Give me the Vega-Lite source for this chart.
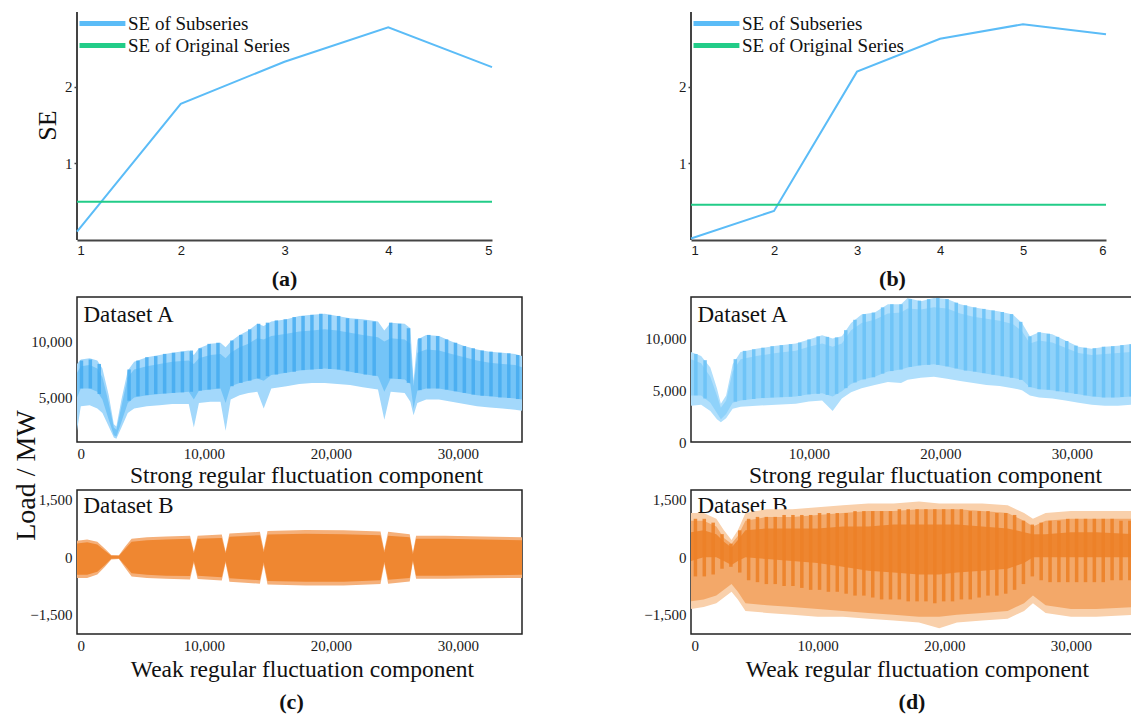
{
  "$schema": "https://vega.github.io/schema/vega-lite/v6.json",
  "padding": {"left": 11, "top": 11, "right": 0, "bottom": 0},
  "background": "white",
  "datasets": {
    "se_a": [
      {"component": 1, "se": 0.11, "series": "SE of Subseries"},
      {"component": 2, "se": 1.78, "series": "SE of Subseries"},
      {"component": 3, "se": 2.33, "series": "SE of Subseries"},
      {"component": 4, "se": 2.78, "series": "SE of Subseries"},
      {"component": 5, "se": 2.26, "series": "SE of Subseries"},
      {"component": 1, "se": 0.5, "series": "SE of Original Series"},
      {"component": 5, "se": 0.5, "series": "SE of Original Series"}
    ],
    "se_b": [
      {"component": 1, "se": 0.02, "series": "SE of Subseries"},
      {"component": 2, "se": 0.38, "series": "SE of Subseries"},
      {"component": 3, "se": 2.2, "series": "SE of Subseries"},
      {"component": 4, "se": 2.63, "series": "SE of Subseries"},
      {"component": 5, "se": 2.82, "series": "SE of Subseries"},
      {"component": 6, "se": 2.69, "series": "SE of Subseries"},
      {"component": 1, "se": 0.46, "series": "SE of Original Series"},
      {"component": 6, "se": 0.46, "series": "SE of Original Series"}
    ],
    "cA": [
      {"x": 0, "lo": 2000, "hi": 8000, "lo2": 5000, "hi2": 7200},
      {"x": 300, "lo": 4200, "hi": 8400, "lo2": 5800, "hi2": 7800},
      {"x": 1000, "lo": 4300, "hi": 8500, "lo2": 5800, "hi2": 7900},
      {"x": 1600, "lo": 4000, "hi": 8300, "lo2": 5500, "hi2": 7600},
      {"x": 2000, "lo": 3600, "hi": 7600, "lo2": 4800, "hi2": 6800},
      {"x": 2500, "lo": 2400, "hi": 5200, "lo2": 3000, "hi2": 4500},
      {"x": 2900, "lo": 1400, "hi": 2600, "lo2": 1600, "hi2": 2300},
      {"x": 3100, "lo": 1300, "hi": 2400, "lo2": 1500, "hi2": 2100},
      {"x": 3500, "lo": 2300, "hi": 4800, "lo2": 2800, "hi2": 4200},
      {"x": 4000, "lo": 3600, "hi": 7400, "lo2": 4500, "hi2": 6800},
      {"x": 4500, "lo": 4000, "hi": 8200, "lo2": 5000, "hi2": 7500},
      {"x": 5500, "lo": 4200, "hi": 8600, "lo2": 5200, "hi2": 7800},
      {"x": 6500, "lo": 4300, "hi": 8800, "lo2": 5300, "hi2": 8000},
      {"x": 7500, "lo": 4400, "hi": 9000, "lo2": 5400, "hi2": 8200},
      {"x": 8800, "lo": 4400, "hi": 9200, "lo2": 5500, "hi2": 8300},
      {"x": 9200, "lo": 2300, "hi": 8800, "lo2": 4800, "hi2": 8000},
      {"x": 9600, "lo": 4500, "hi": 9400, "lo2": 5600, "hi2": 8500},
      {"x": 10500, "lo": 4600, "hi": 9800, "lo2": 5700, "hi2": 8800},
      {"x": 11300, "lo": 4600, "hi": 9900, "lo2": 5800, "hi2": 8900},
      {"x": 11700, "lo": 2000, "hi": 9500, "lo2": 4500, "hi2": 8500},
      {"x": 12100, "lo": 4800, "hi": 10000, "lo2": 6000, "hi2": 9000},
      {"x": 12800, "lo": 5200, "hi": 10600, "lo2": 6300, "hi2": 9500},
      {"x": 13500, "lo": 5400, "hi": 11000, "lo2": 6500, "hi2": 9800},
      {"x": 14200, "lo": 5500, "hi": 11600, "lo2": 6700, "hi2": 10300},
      {"x": 14700, "lo": 4000, "hi": 11400, "lo2": 6500, "hi2": 10200},
      {"x": 15300, "lo": 5800, "hi": 11800, "lo2": 7000, "hi2": 10500},
      {"x": 16500, "lo": 6000, "hi": 12000, "lo2": 7200, "hi2": 10700},
      {"x": 17500, "lo": 6200, "hi": 12300, "lo2": 7400, "hi2": 10900},
      {"x": 18500, "lo": 6300, "hi": 12400, "lo2": 7500, "hi2": 11000},
      {"x": 19500, "lo": 6300, "hi": 12500, "lo2": 7600, "hi2": 11100},
      {"x": 20500, "lo": 6200, "hi": 12300, "lo2": 7500, "hi2": 11000},
      {"x": 21500, "lo": 6100, "hi": 12100, "lo2": 7300, "hi2": 10800},
      {"x": 22500, "lo": 5900, "hi": 12000, "lo2": 7100, "hi2": 10600},
      {"x": 23700, "lo": 5700, "hi": 11800, "lo2": 6900, "hi2": 10400},
      {"x": 24200, "lo": 3000, "hi": 11000, "lo2": 5500, "hi2": 10000},
      {"x": 24700, "lo": 5500, "hi": 11700, "lo2": 6700, "hi2": 10300},
      {"x": 25800, "lo": 5400, "hi": 11600, "lo2": 6600, "hi2": 10200},
      {"x": 26250, "lo": 4600, "hi": 11200, "lo2": 6200, "hi2": 9800},
      {"x": 26500, "lo": 3400, "hi": 6500, "lo2": 4000, "hi2": 6000},
      {"x": 26800, "lo": 4500, "hi": 10200, "lo2": 5600, "hi2": 9000},
      {"x": 27500, "lo": 4800, "hi": 10600, "lo2": 5800, "hi2": 9300},
      {"x": 28500, "lo": 4800, "hi": 10500, "lo2": 5800, "hi2": 9200},
      {"x": 29500, "lo": 4600, "hi": 10000, "lo2": 5600, "hi2": 8900},
      {"x": 30500, "lo": 4400, "hi": 9600, "lo2": 5400, "hi2": 8600},
      {"x": 31500, "lo": 4200, "hi": 9300, "lo2": 5200, "hi2": 8300},
      {"x": 32500, "lo": 4100, "hi": 9100, "lo2": 5100, "hi2": 8100},
      {"x": 33500, "lo": 4000, "hi": 9000, "lo2": 5000, "hi2": 8000},
      {"x": 34500, "lo": 3900, "hi": 8900, "lo2": 4900, "hi2": 7900},
      {"x": 35040, "lo": 3800, "hi": 8700, "lo2": 4800, "hi2": 7700}
    ],
    "cA_s": [
      {"x": 350, "b": 5800, "t": 8300}, {"x": 1050, "b": 5800, "t": 8400}, {"x": 1750, "b": 5300, "t": 8000},
      {"x": 4100, "b": 4700, "t": 7500}, {"x": 4800, "b": 5100, "t": 8300}, {"x": 5500, "b": 5200, "t": 8600},
      {"x": 6200, "b": 5300, "t": 8700}, {"x": 6900, "b": 5350, "t": 8900}, {"x": 7600, "b": 5400, "t": 9000},
      {"x": 8300, "b": 5450, "t": 9100}, {"x": 9000, "b": 5500, "t": 9200}, {"x": 9700, "b": 5600, "t": 9400},
      {"x": 10400, "b": 5700, "t": 9800}, {"x": 11100, "b": 5800, "t": 9900}, {"x": 12200, "b": 6000, "t": 10100},
      {"x": 12900, "b": 6300, "t": 10600}, {"x": 13600, "b": 6500, "t": 11100}, {"x": 14300, "b": 6700, "t": 11600},
      {"x": 15000, "b": 6900, "t": 11700}, {"x": 15700, "b": 7050, "t": 11900}, {"x": 16400, "b": 7200, "t": 12000},
      {"x": 17100, "b": 7300, "t": 12200}, {"x": 17800, "b": 7450, "t": 12300}, {"x": 18500, "b": 7500, "t": 12400},
      {"x": 19200, "b": 7550, "t": 12500}, {"x": 19900, "b": 7550, "t": 12400}, {"x": 20600, "b": 7500, "t": 12300},
      {"x": 21300, "b": 7350, "t": 12100}, {"x": 22000, "b": 7200, "t": 12000}, {"x": 22700, "b": 7050, "t": 11900},
      {"x": 23400, "b": 6950, "t": 11800}, {"x": 24700, "b": 6700, "t": 11700}, {"x": 25400, "b": 6650, "t": 11600},
      {"x": 26100, "b": 6300, "t": 11200}, {"x": 27000, "b": 5650, "t": 10300}, {"x": 27700, "b": 5800, "t": 10600},
      {"x": 28400, "b": 5800, "t": 10500}, {"x": 29100, "b": 5700, "t": 10200}, {"x": 29800, "b": 5550, "t": 9900},
      {"x": 30500, "b": 5400, "t": 9600}, {"x": 31200, "b": 5250, "t": 9400}, {"x": 31900, "b": 5150, "t": 9200},
      {"x": 32600, "b": 5100, "t": 9100}, {"x": 33300, "b": 5000, "t": 9000}, {"x": 34000, "b": 4950, "t": 8950},
      {"x": 34700, "b": 4850, "t": 8800}
    ],
    "cB": [
      {"x": 0, "lo": -540, "hi": 430, "lo2": -460, "hi2": 360},
      {"x": 800, "lo": -540, "hi": 460, "lo2": -460, "hi2": 390},
      {"x": 1600, "lo": -450, "hi": 400, "lo2": -380, "hi2": 330},
      {"x": 2200, "lo": -250, "hi": 220, "lo2": -200, "hi2": 170},
      {"x": 2700, "lo": -60, "hi": 60, "lo2": -40, "hi2": 40},
      {"x": 3300, "lo": -50, "hi": 50, "lo2": -35, "hi2": 35},
      {"x": 3800, "lo": -280, "hi": 280, "lo2": -220, "hi2": 220},
      {"x": 4300, "lo": -500, "hi": 480, "lo2": -420, "hi2": 400},
      {"x": 5500, "lo": -540, "hi": 520, "lo2": -460, "hi2": 440},
      {"x": 7000, "lo": -560, "hi": 540, "lo2": -480, "hi2": 460},
      {"x": 8900, "lo": -580, "hi": 560, "lo2": -490, "hi2": 480},
      {"x": 9200, "lo": -150, "hi": 150, "lo2": -100, "hi2": 100},
      {"x": 9500, "lo": -570, "hi": 560, "lo2": -480, "hi2": 480},
      {"x": 11400, "lo": -610, "hi": 590, "lo2": -520, "hi2": 500},
      {"x": 11700, "lo": -150, "hi": 150, "lo2": -100, "hi2": 100},
      {"x": 12000, "lo": -640, "hi": 620, "lo2": -550, "hi2": 530},
      {"x": 14400, "lo": -690, "hi": 660, "lo2": -600, "hi2": 570},
      {"x": 14700, "lo": -200, "hi": 200, "lo2": -130, "hi2": 130},
      {"x": 15000, "lo": -710, "hi": 680, "lo2": -620, "hi2": 590},
      {"x": 18000, "lo": -740, "hi": 710, "lo2": -640, "hi2": 610},
      {"x": 21000, "lo": -740, "hi": 700, "lo2": -640, "hi2": 600},
      {"x": 23900, "lo": -700, "hi": 670, "lo2": -600, "hi2": 570},
      {"x": 24200, "lo": -180, "hi": 180, "lo2": -120, "hi2": 120},
      {"x": 24500, "lo": -690, "hi": 660, "lo2": -590, "hi2": 560},
      {"x": 26200, "lo": -630, "hi": 600, "lo2": -540, "hi2": 520},
      {"x": 26450, "lo": -120, "hi": 120, "lo2": -80, "hi2": 80},
      {"x": 26700, "lo": -560, "hi": 560, "lo2": -480, "hi2": 480},
      {"x": 29000, "lo": -560, "hi": 560, "lo2": -480, "hi2": 480},
      {"x": 32000, "lo": -550, "hi": 540, "lo2": -470, "hi2": 460},
      {"x": 35040, "lo": -540, "hi": 520, "lo2": -460, "hi2": 440}
    ],
    "dA": [
      {"x": 1030, "lo": 3500, "hi": 8700, "lo2": 4500, "hi2": 8000},
      {"x": 1800, "lo": 3600, "hi": 8300, "lo2": 4500, "hi2": 7600},
      {"x": 2500, "lo": 3000, "hi": 7200, "lo2": 3800, "hi2": 6300},
      {"x": 3000, "lo": 2200, "hi": 5200, "lo2": 2800, "hi2": 4500},
      {"x": 3300, "lo": 1900, "hi": 3700, "lo2": 2200, "hi2": 3300},
      {"x": 3700, "lo": 2300, "hi": 4500, "lo2": 2700, "hi2": 4000},
      {"x": 4200, "lo": 3200, "hi": 7500, "lo2": 3800, "hi2": 6800},
      {"x": 4800, "lo": 3400, "hi": 8700, "lo2": 4000, "hi2": 8000},
      {"x": 6000, "lo": 3500, "hi": 9000, "lo2": 4200, "hi2": 8300},
      {"x": 7500, "lo": 3600, "hi": 9300, "lo2": 4300, "hi2": 8600},
      {"x": 9000, "lo": 3700, "hi": 9500, "lo2": 4400, "hi2": 8800},
      {"x": 10000, "lo": 3900, "hi": 9900, "lo2": 4600, "hi2": 9200},
      {"x": 11000, "lo": 4000, "hi": 10300, "lo2": 4700, "hi2": 9500},
      {"x": 11800, "lo": 3000, "hi": 10000, "lo2": 4400, "hi2": 9200},
      {"x": 12500, "lo": 4200, "hi": 10200, "lo2": 4900, "hi2": 9500},
      {"x": 13200, "lo": 4800, "hi": 11500, "lo2": 5600, "hi2": 10800},
      {"x": 14000, "lo": 5200, "hi": 12300, "lo2": 6000, "hi2": 11500},
      {"x": 15000, "lo": 5500, "hi": 12500, "lo2": 6300, "hi2": 11800},
      {"x": 16000, "lo": 5800, "hi": 13300, "lo2": 6800, "hi2": 12400},
      {"x": 17000, "lo": 5700, "hi": 13300, "lo2": 7000, "hi2": 12500},
      {"x": 17500, "lo": 6000, "hi": 13900, "lo2": 7200, "hi2": 12900},
      {"x": 18500, "lo": 6200, "hi": 13600, "lo2": 7400, "hi2": 12800},
      {"x": 19500, "lo": 6300, "hi": 13900, "lo2": 7500, "hi2": 13000},
      {"x": 20500, "lo": 6100, "hi": 13800, "lo2": 7300, "hi2": 12900},
      {"x": 21500, "lo": 5900, "hi": 13300, "lo2": 7000, "hi2": 12400},
      {"x": 22500, "lo": 5700, "hi": 13000, "lo2": 6800, "hi2": 12100},
      {"x": 23500, "lo": 5500, "hi": 12800, "lo2": 6600, "hi2": 11900},
      {"x": 24500, "lo": 5400, "hi": 12600, "lo2": 6400, "hi2": 11700},
      {"x": 25500, "lo": 5200, "hi": 12300, "lo2": 6200, "hi2": 11400},
      {"x": 26200, "lo": 5000, "hi": 11500, "lo2": 6000, "hi2": 10700},
      {"x": 26800, "lo": 4500, "hi": 10200, "lo2": 5300, "hi2": 9500},
      {"x": 27500, "lo": 4300, "hi": 10600, "lo2": 5100, "hi2": 9800},
      {"x": 28500, "lo": 4200, "hi": 10400, "lo2": 5000, "hi2": 9600},
      {"x": 29500, "lo": 4000, "hi": 9800, "lo2": 4800, "hi2": 9100},
      {"x": 30500, "lo": 3800, "hi": 9200, "lo2": 4600, "hi2": 8600},
      {"x": 31500, "lo": 3600, "hi": 9000, "lo2": 4400, "hi2": 8400},
      {"x": 32500, "lo": 3500, "hi": 9200, "lo2": 4300, "hi2": 8500},
      {"x": 33500, "lo": 3500, "hi": 9300, "lo2": 4300, "hi2": 8600},
      {"x": 34640, "lo": 3600, "hi": 9500, "lo2": 4400, "hi2": 8700}
    ],
    "dA_s": [
      {"x": 1400, "b": 4500, "t": 8500}, {"x": 2100, "b": 4200, "t": 7900}, {"x": 4400, "b": 3900, "t": 8000},
      {"x": 5100, "b": 4050, "t": 8800}, {"x": 5800, "b": 4150, "t": 8950}, {"x": 6500, "b": 4250, "t": 9100},
      {"x": 7200, "b": 4300, "t": 9250}, {"x": 7900, "b": 4330, "t": 9350}, {"x": 8600, "b": 4370, "t": 9450},
      {"x": 9300, "b": 4450, "t": 9600}, {"x": 10000, "b": 4600, "t": 9900}, {"x": 10700, "b": 4650, "t": 10200},
      {"x": 11400, "b": 4550, "t": 10150}, {"x": 12100, "b": 4650, "t": 10100}, {"x": 12800, "b": 5200, "t": 10800},
      {"x": 13500, "b": 5750, "t": 11800}, {"x": 14200, "b": 6050, "t": 12350}, {"x": 14900, "b": 6250, "t": 12500},
      {"x": 15600, "b": 6600, "t": 13000}, {"x": 16300, "b": 6850, "t": 13300}, {"x": 17000, "b": 7000, "t": 13300},
      {"x": 17700, "b": 7250, "t": 13800}, {"x": 18400, "b": 7400, "t": 13650}, {"x": 19100, "b": 7450, "t": 13800},
      {"x": 19800, "b": 7450, "t": 13900}, {"x": 20500, "b": 7300, "t": 13800}, {"x": 21200, "b": 7100, "t": 13450},
      {"x": 21900, "b": 6900, "t": 13200}, {"x": 22600, "b": 6800, "t": 13000}, {"x": 23300, "b": 6650, "t": 12850},
      {"x": 24000, "b": 6500, "t": 12700}, {"x": 24700, "b": 6350, "t": 12550}, {"x": 25400, "b": 6200, "t": 12350},
      {"x": 26100, "b": 6000, "t": 11600}, {"x": 26800, "b": 5300, "t": 10200}, {"x": 27500, "b": 5100, "t": 10600},
      {"x": 28200, "b": 5050, "t": 10450}, {"x": 28900, "b": 4900, "t": 10150}, {"x": 29600, "b": 4800, "t": 9750},
      {"x": 30300, "b": 4650, "t": 9300}, {"x": 31000, "b": 4500, "t": 9100}, {"x": 31700, "b": 4400, "t": 9050},
      {"x": 32400, "b": 4300, "t": 9200}, {"x": 33100, "b": 4300, "t": 9250}, {"x": 33800, "b": 4350, "t": 9350},
      {"x": 34500, "b": 4400, "t": 9450}
    ],
    "dB": [
      {"x": 0, "lo": -1350, "hi": 1150, "mlo": -1150, "mhi": 950, "dlo": -100, "dhi": 650},
      {"x": 1000, "lo": -1300, "hi": 1150, "mlo": -1100, "mhi": 950, "dlo": 0, "dhi": 700},
      {"x": 2000, "lo": -1200, "hi": 1000, "mlo": -1000, "mhi": 800, "dlo": 0, "dhi": 600},
      {"x": 2600, "lo": -1050, "hi": 700, "mlo": -850, "mhi": 500, "dlo": -100, "dhi": 400},
      {"x": 3200, "lo": -900, "hi": 450, "mlo": -700, "mhi": 350, "dlo": -200, "dhi": 250},
      {"x": 3700, "lo": -1100, "hi": 700, "mlo": -900, "mhi": 550, "dlo": -100, "dhi": 450},
      {"x": 4300, "lo": -1400, "hi": 1150, "mlo": -1200, "mhi": 950, "dlo": 0, "dhi": 700},
      {"x": 6000, "lo": -1450, "hi": 1250, "mlo": -1250, "mhi": 1050, "dlo": -50, "dhi": 750},
      {"x": 8000, "lo": -1500, "hi": 1250, "mlo": -1300, "mhi": 1050, "dlo": -100, "dhi": 750},
      {"x": 10000, "lo": -1550, "hi": 1300, "mlo": -1350, "mhi": 1100, "dlo": -150, "dhi": 750},
      {"x": 12000, "lo": -1550, "hi": 1350, "mlo": -1400, "mhi": 1150, "dlo": -250, "dhi": 800},
      {"x": 14000, "lo": -1600, "hi": 1400, "mlo": -1450, "mhi": 1200, "dlo": -350, "dhi": 800},
      {"x": 16000, "lo": -1650, "hi": 1400, "mlo": -1500, "mhi": 1200, "dlo": -400, "dhi": 850},
      {"x": 18000, "lo": -1700, "hi": 1450, "mlo": -1550, "mhi": 1250, "dlo": -450, "dhi": 850},
      {"x": 19600, "lo": -1850, "hi": 1400, "mlo": -1550, "mhi": 1250, "dlo": -450, "dhi": 850},
      {"x": 21000, "lo": -1700, "hi": 1400, "mlo": -1500, "mhi": 1250, "dlo": -400, "dhi": 850},
      {"x": 23000, "lo": -1650, "hi": 1400, "mlo": -1450, "mhi": 1200, "dlo": -350, "dhi": 800},
      {"x": 25000, "lo": -1600, "hi": 1350, "mlo": -1400, "mhi": 1150, "dlo": -300, "dhi": 750},
      {"x": 26300, "lo": -1400, "hi": 1150, "mlo": -1200, "mhi": 950, "dlo": -150, "dhi": 650},
      {"x": 27000, "lo": -1200, "hi": 1000, "mlo": -1000, "mhi": 800, "dlo": 0, "dhi": 600},
      {"x": 28000, "lo": -1450, "hi": 1150, "mlo": -1250, "mhi": 950, "dlo": 0, "dhi": 600},
      {"x": 30000, "lo": -1550, "hi": 1200, "mlo": -1350, "mhi": 1000, "dlo": 0, "dhi": 650},
      {"x": 32000, "lo": -1550, "hi": 1200, "mlo": -1350, "mhi": 1000, "dlo": 0, "dhi": 650},
      {"x": 34900, "lo": -1500, "hi": 1200, "mlo": -1300, "mhi": 1000, "dlo": 0, "dhi": 600}
    ],
    "dB_s": [
      {"x": 350, "b": -500, "t": 1000}, {"x": 1050, "b": -500, "t": 1000}, {"x": 1750, "b": -450, "t": 900},
      {"x": 2450, "b": -300, "t": 600}, {"x": 3150, "b": -250, "t": 350}, {"x": 3850, "b": -400, "t": 700},
      {"x": 4550, "b": -600, "t": 1000}, {"x": 5250, "b": -650, "t": 1050}, {"x": 5950, "b": -700, "t": 1050},
      {"x": 6650, "b": -700, "t": 1050}, {"x": 7350, "b": -750, "t": 1100}, {"x": 8050, "b": -750, "t": 1100},
      {"x": 8750, "b": -800, "t": 1100}, {"x": 9450, "b": -850, "t": 1100}, {"x": 10150, "b": -850, "t": 1150},
      {"x": 10850, "b": -900, "t": 1150}, {"x": 11550, "b": -900, "t": 1150}, {"x": 12250, "b": -950, "t": 1150},
      {"x": 12950, "b": -1000, "t": 1200}, {"x": 13650, "b": -1000, "t": 1200}, {"x": 14350, "b": -1050, "t": 1200},
      {"x": 15050, "b": -1100, "t": 1200}, {"x": 15750, "b": -1100, "t": 1200}, {"x": 16450, "b": -1100, "t": 1250},
      {"x": 17150, "b": -1150, "t": 1250}, {"x": 17850, "b": -1150, "t": 1250}, {"x": 18550, "b": -1150, "t": 1250},
      {"x": 19250, "b": -1200, "t": 1250}, {"x": 19950, "b": -1150, "t": 1250}, {"x": 20650, "b": -1150, "t": 1250},
      {"x": 21350, "b": -1100, "t": 1250}, {"x": 22050, "b": -1100, "t": 1200}, {"x": 22750, "b": -1050, "t": 1200},
      {"x": 23450, "b": -1000, "t": 1200}, {"x": 24150, "b": -1000, "t": 1150}, {"x": 24850, "b": -950, "t": 1150},
      {"x": 25550, "b": -850, "t": 1100}, {"x": 26250, "b": -700, "t": 950}, {"x": 26950, "b": -500, "t": 850},
      {"x": 27650, "b": -600, "t": 900}, {"x": 28350, "b": -650, "t": 950}, {"x": 29050, "b": -650, "t": 950},
      {"x": 29750, "b": -650, "t": 1000}, {"x": 30450, "b": -650, "t": 1000}, {"x": 31150, "b": -650, "t": 1000},
      {"x": 31850, "b": -650, "t": 1000}, {"x": 32550, "b": -650, "t": 1000}, {"x": 33250, "b": -600, "t": 1000},
      {"x": 33950, "b": -600, "t": 950}, {"x": 34650, "b": -600, "t": 950}
    ]
  },
  "columns": 2,
  "bounds": "flush",
  "align": "each",
  "spacing": {"row": 48, "column": 169},
  "resolve": {"legend": {"color": "independent"}, "scale": {"color": "independent"}},
  "concat": [
    {
      "width": 415,
      "height": 237,
      "title": {"text": "(a)", "orient": "bottom", "offset": 12, "fontSize": 22, "fontWeight": "bold"},
      "layer": [
        {
          "data": {"values": [{"k": 0}]},
          "mark": {"type": "rule", "color": "#444", "strokeWidth": 2},
          "encoding": {
            "x": {"datum": 1, "type": "quantitative", "scale": {"domain": [1, 5], "nice": false, "zero": false},
              "axis": {"values": [1, 2, 3, 4, 5], "format": "d", "title": null, "offset": -9, "labelFont": "Liberation Sans", "labelFontSize": 13, "ticks": false, "domainWidth": 2, "labelPadding": 4}},
            "y": {"datum": 0, "type": "quantitative", "scale": {"domain": [-0.118, 2.98], "nice": false, "zero": false},
              "axis": {"values": [1, 2], "title": "SE", "titleFontSize": 26, "titleX": -22, "titleY": 113, "titleBaseline": "alphabetic", "titleAlign": "center", "titleAngle": 270, "labelFontSize": 15, "tickSize": 3, "tickWidth": 1.5, "domain": false, "labelPadding": 2}},
            "y2": {"datum": 2.98}
          }
        },
        {
          "data": {"name": "se_a"},
          "mark": {"type": "line", "strokeWidth": 2},
          "encoding": {
            "x": {"field": "component", "type": "quantitative",
              "axis": {"values": [1, 2, 3, 4, 5], "format": "d", "title": null, "offset": -9, "labelFont": "Liberation Sans", "labelFontSize": 13, "ticks": false, "domainWidth": 2, "labelPadding": 4}},
            "y": {"field": "se", "type": "quantitative",
              "axis": {"values": [1, 2], "title": "SE", "titleFontSize": 26, "titleX": -22, "titleY": 113, "titleBaseline": "alphabetic", "titleAlign": "center", "titleAngle": 270, "labelFontSize": 15, "tickSize": 3, "tickWidth": 1.5, "domain": false, "labelPadding": 2}},
            "color": {"field": "series", "type": "nominal",
              "scale": {"domain": ["SE of Subseries", "SE of Original Series"], "range": ["#5bbcf7", "#22cc88"]},
              "legend": {"title": null, "orient": "none", "legendX": 0, "legendY": 0, "padding": 0, "symbolType": "M-1,0H4.1", "symbolSize": 324, "symbolStrokeWidth": 5, "labelFontSize": 19, "labelFont": "Liberation Serif", "labelColor": "#111", "rowPadding": 0, "labelOffset": 28, "labelLimit": 400}}
          }
        }
      ]
    },
    {
      "width": 415,
      "height": 237,
      "title": {"text": "(b)", "orient": "bottom", "offset": 12, "dx": -6, "fontSize": 22, "fontWeight": "bold"},
      "layer": [
        {
          "data": {"values": [{"k": 0}]},
          "mark": {"type": "rule", "color": "#444", "strokeWidth": 2},
          "encoding": {
            "x": {"datum": 1, "type": "quantitative", "scale": {"domain": [1, 6], "nice": false, "zero": false},
              "axis": {"values": [1, 2, 3, 4, 5, 6], "format": "d", "title": null, "offset": -9, "labelFont": "Liberation Sans", "labelFontSize": 13, "ticks": false, "domainWidth": 2, "labelPadding": 4}},
            "y": {"datum": 0, "type": "quantitative", "scale": {"domain": [-0.118, 2.98], "nice": false, "zero": false},
              "axis": {"values": [1, 2], "title": null, "labelFontSize": 15, "tickSize": 3, "tickWidth": 1.5, "domain": false, "labelPadding": 2}},
            "y2": {"datum": 2.98}
          }
        },
        {
          "data": {"name": "se_b"},
          "mark": {"type": "line", "strokeWidth": 2},
          "encoding": {
            "x": {"field": "component", "type": "quantitative",
              "axis": {"values": [1, 2, 3, 4, 5, 6], "format": "d", "title": null, "offset": -9, "labelFont": "Liberation Sans", "labelFontSize": 13, "ticks": false, "domainWidth": 2, "labelPadding": 4}},
            "y": {"field": "se", "type": "quantitative",
              "axis": {"values": [1, 2], "title": null, "labelFontSize": 15, "tickSize": 3, "tickWidth": 1.5, "domain": false, "labelPadding": 2}},
            "color": {"field": "series", "type": "nominal",
              "scale": {"domain": ["SE of Subseries", "SE of Original Series"], "range": ["#5bbcf7", "#22cc88"]},
              "legend": {"title": null, "orient": "none", "legendX": 0, "legendY": 0, "padding": 0, "symbolType": "M-1,0H4.1", "symbolSize": 324, "symbolStrokeWidth": 5, "labelFontSize": 19, "labelFont": "Liberation Serif", "labelColor": "#111", "rowPadding": 0, "labelOffset": 28, "labelLimit": 400}}
          }
        }
      ]
    },
    {
      "width": 445,
      "height": 145,
      "view": {"stroke": "#222", "strokeWidth": 1.5},
      "resolve": {"axis": {"x": "independent"}},
      "layer": [
        {
          "data": {"name": "cA"},
          "mark": {"type": "area", "color": "#a3d8fb", "clip": true},
          "encoding": {
            "x": {"field": "x", "type": "quantitative", "scale": {"domain": [0, 35040], "nice": false},
              "axis": {"values": [0, 10000, 20000, 30000], "format": ",d", "title": "Strong regular fluctuation component", "titleX": 229, "titleFontSize": 23.5, "titlePadding": 2, "labelFontSize": 15, "labelPadding": 4, "ticks": false, "domain": false}},
            "y": {"field": "lo", "type": "quantitative", "scale": {"domain": [1000, 14000], "nice": false},
              "axis": {"values": [5000, 10000], "format": ",d", "labelFontSize": 15, "labelPadding": 5, "ticks": false, "domain": false, "title": "Load / MW", "titleFontSize": 28, "titleX": -43, "titleY": 178, "titleBaseline": "alphabetic", "titleAlign": "center", "titleAngle": 270}},
            "y2": {"field": "hi"}
          }
        },
        {
          "data": {"name": "cA"},
          "mark": {"type": "area", "color": "#74c4f7", "clip": true},
          "encoding": {
            "x": {"field": "x", "type": "quantitative",
              "axis": {"orient": "top", "labels": false, "ticks": false, "domain": false, "grid": false, "title": "Dataset A", "titleAngle": 0, "titleX": 6, "titleY": 24, "titleAlign": "left", "titleBaseline": "alphabetic", "titleFontSize": 23}},
            "y": {"field": "lo2", "type": "quantitative",
              "axis": {"values": [5000, 10000], "format": ",d", "labelFontSize": 15, "labelPadding": 5, "ticks": false, "domain": false, "title": "Load / MW", "titleFontSize": 28, "titleX": -43, "titleY": 178, "titleBaseline": "alphabetic", "titleAlign": "center", "titleAngle": 270}},
            "y2": {"field": "hi2"}
          }
        },
        {
          "data": {"name": "cA_s"},
          "mark": {"type": "rule", "color": "#45acf0", "strokeWidth": 3.5, "opacity": 0.85, "clip": true},
          "encoding": {
            "x": {"field": "x", "type": "quantitative", "axis": null},
            "y": {"field": "b", "type": "quantitative",
              "axis": {"values": [5000, 10000], "format": ",d", "labelFontSize": 15, "labelPadding": 5, "ticks": false, "domain": false, "title": "Load / MW", "titleFontSize": 28, "titleX": -43, "titleY": 178, "titleBaseline": "alphabetic", "titleAlign": "center", "titleAngle": 270}},
            "y2": {"field": "t"}
          }
        }
      ]
    },
    {
      "width": 442,
      "height": 145,
      "view": {"stroke": "#222", "strokeWidth": 1.5},
      "encoding": {
        "x": {"field": "x", "type": "quantitative", "scale": {"domain": [1030, 34640], "nice": false},
          "axis": {"values": [10000, 20000, 30000], "format": ",d", "title": "Strong regular fluctuation component", "titleX": 234, "titleFontSize": 23.5, "titlePadding": 2, "labelFontSize": 15, "labelPadding": 4, "ticks": false, "domain": false}}
      },
      "layer": [
        {
          "data": {"name": "dA"},
          "mark": {"type": "area", "color": "#b0dffc", "clip": true},
          "encoding": {
            "y": {"field": "lo", "type": "quantitative", "scale": {"domain": [0, 14000], "nice": false},
              "axis": {"values": [0, 5000, 10000], "format": ",d", "labelFontSize": 15, "labelPadding": 5, "ticks": false, "domain": false, "title": "Dataset A", "titleAngle": 0, "titleX": 6, "titleY": 24, "titleAlign": "left", "titleBaseline": "alphabetic", "titleFontSize": 23}},
            "y2": {"field": "hi"}
          }
        },
        {
          "data": {"name": "dA"},
          "mark": {"type": "area", "color": "#8fd2fa", "clip": true},
          "encoding": {
            "y": {"field": "lo2", "type": "quantitative",
              "axis": {"values": [0, 5000, 10000], "format": ",d", "labelFontSize": 15, "labelPadding": 5, "ticks": false, "domain": false, "title": "Dataset A", "titleAngle": 0, "titleX": 6, "titleY": 24, "titleAlign": "left", "titleBaseline": "alphabetic", "titleFontSize": 23}},
            "y2": {"field": "hi2"}
          }
        },
        {
          "data": {"name": "dA_s"},
          "mark": {"type": "rule", "color": "#6cc2f6", "strokeWidth": 3.5, "opacity": 0.9, "clip": true},
          "encoding": {
            "y": {"field": "b", "type": "quantitative",
              "axis": {"values": [0, 5000, 10000], "format": ",d", "labelFontSize": 15, "labelPadding": 5, "ticks": false, "domain": false, "title": "Dataset A", "titleAngle": 0, "titleX": 6, "titleY": 24, "titleAlign": "left", "titleBaseline": "alphabetic", "titleFontSize": 23}},
            "y2": {"field": "t"}
          }
        }
      ]
    },
    {
      "width": 445,
      "height": 144,
      "view": {"stroke": "#222", "strokeWidth": 1.5},
      "title": {"text": "(c)", "orient": "bottom", "offset": 11, "dx": -8, "fontSize": 22, "fontWeight": "bold"},
      "data": {"name": "cB"},
      "encoding": {
        "x": {"field": "x", "type": "quantitative", "scale": {"domain": [0, 35040], "nice": false},
          "axis": {"values": [0, 10000, 20000, 30000], "format": ",d", "title": "Weak regular fluctuation component", "titleX": 225, "titleFontSize": 23.5, "titlePadding": 4, "labelFontSize": 15, "labelPadding": 4, "ticks": false, "domain": false}}
      },
      "layer": [
        {
          "mark": {"type": "area", "color": "#f5b07a", "clip": true},
          "encoding": {
            "y": {"field": "lo", "type": "quantitative", "scale": {"domain": [-2000, 1750], "nice": false},
              "axis": {"values": [-1500, 0, 1500], "format": ",d", "labelFontSize": 15, "labelPadding": 5, "ticks": false, "domain": false, "title": "Dataset B", "titleAngle": 0, "titleX": 6, "titleY": 22, "titleAlign": "left", "titleBaseline": "alphabetic", "titleFontSize": 23}},
            "y2": {"field": "hi"}
          }
        },
        {
          "mark": {"type": "area", "color": "#ef8731", "clip": true},
          "encoding": {
            "y": {"field": "lo2", "type": "quantitative",
              "axis": {"values": [-1500, 0, 1500], "format": ",d", "labelFontSize": 15, "labelPadding": 5, "ticks": false, "domain": false, "title": "Dataset B", "titleAngle": 0, "titleX": 6, "titleY": 22, "titleAlign": "left", "titleBaseline": "alphabetic", "titleFontSize": 23}},
            "y2": {"field": "hi2"}
          }
        }
      ]
    },
    {
      "width": 442,
      "height": 144,
      "view": {"stroke": "#222", "strokeWidth": 1.5},
      "title": {"text": "(d)", "orient": "bottom", "offset": 11, "fontSize": 22, "fontWeight": "bold"},
      "encoding": {
        "x": {"field": "x", "type": "quantitative", "scale": {"domain": [0, 34900], "nice": false},
          "axis": {"values": [0, 10000, 20000, 30000], "format": ",d", "title": "Weak regular fluctuation component", "titleX": 226, "titleFontSize": 23.5, "titlePadding": 4, "labelFontSize": 15, "labelPadding": 4, "ticks": false, "domain": false}}
      },
      "layer": [
        {
          "data": {"name": "dB"},
          "mark": {"type": "area", "color": "#f9d0ab", "clip": true},
          "encoding": {
            "y": {"field": "lo", "type": "quantitative", "scale": {"domain": [-2000, 1750], "nice": false},
              "axis": {"values": [-1500, 0, 1500], "format": ",d", "labelFontSize": 15, "labelPadding": 5, "ticks": false, "domain": false, "title": "Dataset B", "titleAngle": 0, "titleX": 6, "titleY": 22, "titleAlign": "left", "titleBaseline": "alphabetic", "titleFontSize": 23}},
            "y2": {"field": "hi"}
          }
        },
        {
          "data": {"name": "dB"},
          "mark": {"type": "area", "color": "#f3a869", "clip": true},
          "encoding": {
            "y": {"field": "mlo", "type": "quantitative",
              "axis": {"values": [-1500, 0, 1500], "format": ",d", "labelFontSize": 15, "labelPadding": 5, "ticks": false, "domain": false, "title": "Dataset B", "titleAngle": 0, "titleX": 6, "titleY": 22, "titleAlign": "left", "titleBaseline": "alphabetic", "titleFontSize": 23}},
            "y2": {"field": "mhi"}
          }
        },
        {
          "data": {"name": "dB"},
          "mark": {"type": "area", "color": "#ee8630", "clip": true},
          "encoding": {
            "y": {"field": "dlo", "type": "quantitative",
              "axis": {"values": [-1500, 0, 1500], "format": ",d", "labelFontSize": 15, "labelPadding": 5, "ticks": false, "domain": false, "title": "Dataset B", "titleAngle": 0, "titleX": 6, "titleY": 22, "titleAlign": "left", "titleBaseline": "alphabetic", "titleFontSize": 23}},
            "y2": {"field": "dhi"}
          }
        },
        {
          "data": {"name": "dB_s"},
          "mark": {"type": "rule", "color": "#ec8128", "strokeWidth": 3.5, "opacity": 0.9, "clip": true},
          "encoding": {
            "y": {"field": "b", "type": "quantitative",
              "axis": {"values": [-1500, 0, 1500], "format": ",d", "labelFontSize": 15, "labelPadding": 5, "ticks": false, "domain": false, "title": "Dataset B", "titleAngle": 0, "titleX": 6, "titleY": 22, "titleAlign": "left", "titleBaseline": "alphabetic", "titleFontSize": 23}},
            "y2": {"field": "t"}
          }
        }
      ]
    }
  ],
  "config": {
    "view": {"stroke": null},
    "font": "Liberation Serif",
    "axis": {"grid": false, "labelFont": "Liberation Serif", "labelColor": "#1a1a1a", "titleFont": "Liberation Serif", "titleFontWeight": "normal", "titleColor": "#111", "domainColor": "#444", "tickColor": "#444"},
    "title": {"font": "Liberation Serif", "color": "#111"},
    "legend": {"labelFont": "Liberation Serif"}
  }
}
